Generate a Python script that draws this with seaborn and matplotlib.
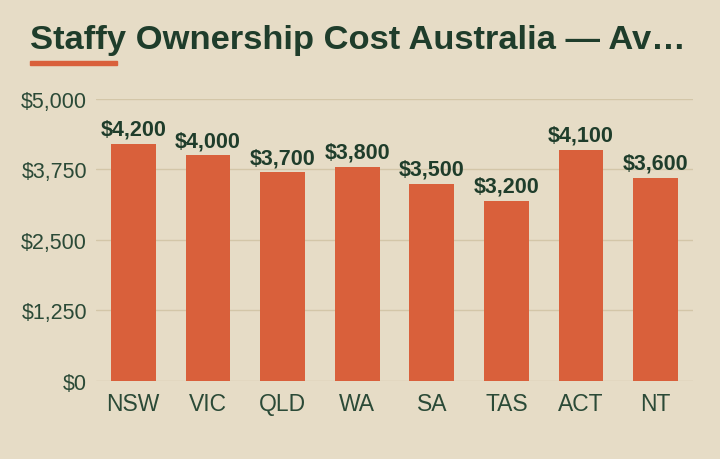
import matplotlib
matplotlib.use("Agg")
import matplotlib.pyplot as plt
import seaborn as sns
import pandas as pd
from matplotlib.ticker import FuncFormatter

# 데이터
states = ["NSW", "VIC", "QLD", "WA", "SA", "TAS", "ACT", "NT"]
costs = [4200, 4000, 3700, 3800, 3500, 3200, 4100, 3600]
y_ticks = [0, 1250, 2500, 3750, 5000]

bg = "#E6DCC6"
bar_color = "#D9603B"
dark = "#1F3D2B"
tick_color = "#2B4A37"
grid_color = "#D3C6A8"

sns.set_theme(style="white")
plt.rcParams["font.family"] = ["Liberation Sans", "DejaVu Sans"]

df = pd.DataFrame({"state": states, "cost": costs})

fig = plt.figure(figsize=(7.2, 4.6), dpi=100, facecolor=bg)
ax = fig.add_axes([0.1333, 0.1696, 0.8292, 0.613])
ax.set_facecolor(bg)

sns.barplot(data=df, x="state", y="cost", color=bar_color, width=0.6,
            saturation=1, linewidth=0, ax=ax, zorder=3)

ax.set_ylim(0, 5000)
ax.set_xlim(-0.5, len(states) - 0.5)
ax.set_yticks(y_ticks)
ax.yaxis.set_major_formatter(FuncFormatter(lambda v, p: f"${v:,.0f}"))
ax.grid(axis="y", color=grid_color, linewidth=1, zorder=0)
ax.grid(axis="x", visible=False)
for s in ax.spines.values():
    s.set_visible(False)
ax.tick_params(axis="both", length=0, colors=tick_color)
ax.tick_params(axis="y", pad=6.5, labelsize=15.5)
ax.tick_params(axis="x", pad=8, labelsize=16.5)
ax.set_xlabel("")
ax.set_ylabel("")

for i, v in enumerate(costs):
    ax.annotate(f"${v:,}", (i, v), xytext=(0, 3), textcoords="offset points",
                ha="center", va="bottom", fontsize=15.5, fontweight="bold",
                color=dark)

fig.text(30 / 720, 1 - 49 / 460, "Staffy Ownership Cost Australia \u2014 Av\u2026",
         fontsize=24.8, fontweight="bold", color=dark, ha="left", va="baseline")
fig.patches.append(plt.Rectangle((30 / 720, 1 - 66 / 460), 87 / 720, 4 / 460,
                                 transform=fig.transFigure, color=bar_color))

fig.savefig("out.png", dpi=100, facecolor=bg)
